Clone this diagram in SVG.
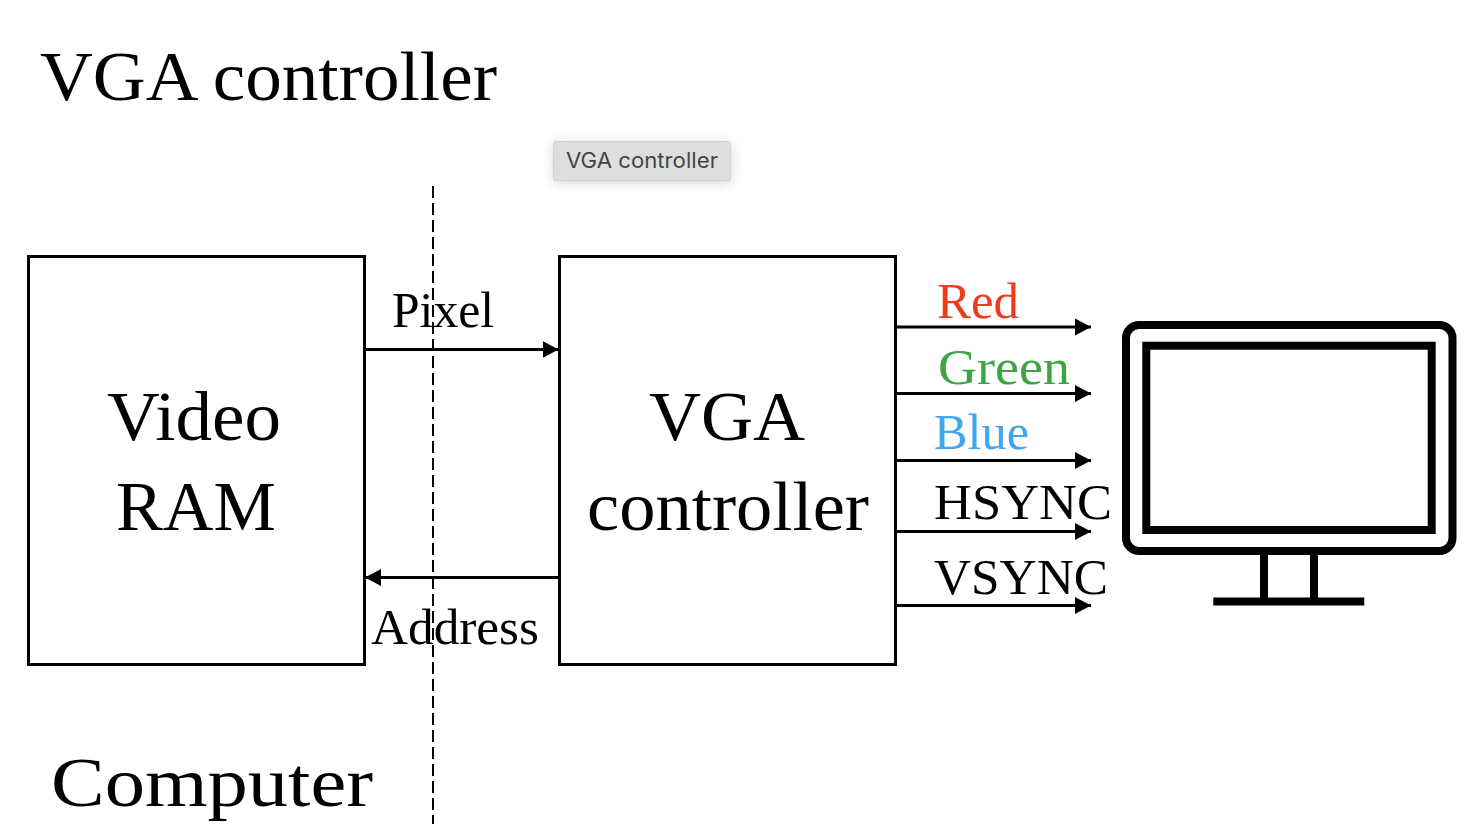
<svg xmlns="http://www.w3.org/2000/svg" width="1476" height="824" viewBox="0 0 1476 824">
<style>
text{font-family:"Liberation Serif","Times New Roman",serif;fill:#000}
.box{fill:#fff;stroke:#000;stroke-width:3}
.conn{stroke:#000;stroke-width:3;fill:none}
.big{font-size:70px}
.mid{font-size:50px}
.mon{fill:none;stroke:#000;stroke-width:8}
</style>
<defs>
<marker id="arrow" markerUnits="userSpaceOnUse" markerWidth="17" markerHeight="18" refX="16" refY="9" orient="auto"><path d="M0 0.500L16 9L0 17.500Z" fill="#000"/></marker>
<filter id="sh" x="-20%" y="-50%" width="140%" height="220%"><feDropShadow dx="0" dy="2" stdDeviation="6" flood-color="#000" flood-opacity="0.16"/></filter>
</defs>
<rect width="1476" height="824" fill="#fff"/>
<g id="title"><text class="big" x="40" y="100" textLength="457" lengthAdjust="spacingAndGlyphs">VGA controller</text></g>
<g id="tooltip"><rect x="553.500" y="141.500" width="177" height="39" rx="2" fill="#dedede" stroke="#d2d2d2" filter="url(#sh)"/><text x="566" y="168" textLength="152" lengthAdjust="spacingAndGlyphs" style="font-family:Inter,'Liberation Sans',Arial,sans-serif;font-size:21px;fill:#444">VGA controller</text></g>
<g id="video-ram"><rect class="box" x="28.500" y="256.500" width="336" height="408"/><text class="big" x="107" y="440" textLength="174" lengthAdjust="spacingAndGlyphs">Video</text><text class="big" x="116" y="530" textLength="160" lengthAdjust="spacingAndGlyphs">RAM</text></g>
<g id="vga-controller"><rect class="box" x="559.500" y="256.500" width="336" height="408"/><text class="big" x="649" y="440" textLength="156" lengthAdjust="spacingAndGlyphs">VGA</text><text class="big" x="587" y="530" textLength="282" lengthAdjust="spacingAndGlyphs">controller</text></g>
<g id="monitor"><rect class="mon" x="1126" y="325" width="326.500" height="226" rx="13"/><rect class="mon" x="1146.300" y="345.700" width="285.400" height="184.300"/><path d="M1264 555V600M1314 555V600" class="mon"/><path d="M1213.300 601.500H1364.300" class="mon"/></g>
<g id="connectors">
<path class="conn" d="M433 186V824" style="stroke-width:2;stroke-dasharray:12 5"/>
<path class="conn" d="M366 349.500H558.500" marker-end="url(#arrow)"/>
<path class="conn" d="M558 577.500H365" marker-end="url(#arrow)"/>
<path class="conn" d="M897 327H1091" marker-end="url(#arrow)"/>
<path class="conn" d="M897 393.500H1091" marker-end="url(#arrow)"/>
<path class="conn" d="M897 460.500H1091" marker-end="url(#arrow)"/>
<path class="conn" d="M897 531.500H1091" marker-end="url(#arrow)"/>
<path class="conn" d="M897 605.500H1091" marker-end="url(#arrow)"/>
</g>
<g id="labels">
<text class="mid" x="392" y="327" textLength="102" lengthAdjust="spacingAndGlyphs">Pixel</text>
<text class="mid" x="371" y="644" textLength="168" lengthAdjust="spacingAndGlyphs">Address</text>
<text class="mid" x="937" y="318" textLength="82" lengthAdjust="spacingAndGlyphs" style="fill:#f03a1e">Red</text>
<text class="mid" x="938" y="384" textLength="132" lengthAdjust="spacingAndGlyphs" style="fill:#3da544">Green</text>
<text class="mid" x="934" y="449" textLength="95" lengthAdjust="spacingAndGlyphs" style="fill:#42a5f0">Blue</text>
<text class="mid" x="934" y="519" textLength="178" lengthAdjust="spacingAndGlyphs">HSYNC</text>
<text class="mid" x="934" y="594" textLength="174" lengthAdjust="spacingAndGlyphs">VSYNC</text>
</g>
<g id="computer"><text class="big" x="51" y="806" textLength="322" lengthAdjust="spacingAndGlyphs">Computer</text></g>
</svg>
